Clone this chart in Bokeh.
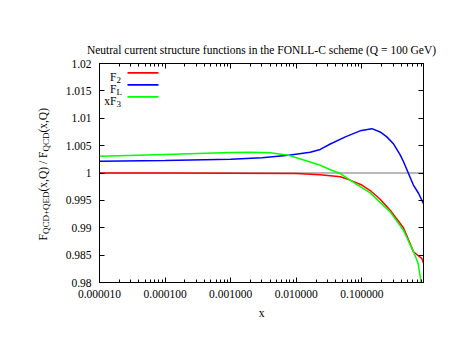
import math
from bokeh.plotting import figure
from bokeh.layouts import row
from bokeh.models import (FixedTicker, LogAxis, LinearAxis, Span, Label,
                          BoxAnnotation, Range1d, CustomJSTickFormatter)
from bokeh.embed import file_html
from bokeh.resources import INLINE

# ---------------- data ----------------
X_F2 = [1e-5, 1e-4, 1e-3, 0.01, 0.023, 0.047, 0.066, 0.10, 0.134, 0.19,
        0.27, 0.43, 0.55, 0.612, 0.66, 0.74, 0.82, 0.87]
F2 = [1.0000, 1.0000, 0.99995, 0.9999, 0.9997, 0.9993, 0.9987, 0.9978,
      0.9968, 0.9952, 0.9932, 0.9900, 0.9870, 0.9856, 0.9853, 0.9848,
      0.9844, 0.9835]

X_FL = [1e-5, 1e-4, 1e-3, 3e-3, 7.6e-3, 0.0163, 0.0232, 0.033, 0.056,
        0.094, 0.142, 0.19, 0.24, 0.30, 0.38, 0.43, 0.51, 0.61, 0.73, 0.87]
FL = [1.00215, 1.0023, 1.0025, 1.0028, 1.00325, 1.0038, 1.0043, 1.0053,
      1.0066, 1.0077, 1.0081, 1.0075, 1.0066, 1.0054, 1.0034, 1.0021,
      1.0000, 0.9978, 0.9963, 0.9944]

X_XF3 = [1e-5, 1e-4, 1e-3, 0.002, 0.004, 0.0076, 0.0163, 0.0232, 0.033,
         0.047, 0.066, 0.134, 0.27, 0.43, 0.612, 0.72, 0.80, 0.87]
XF3 = [1.00307, 1.00338, 1.00374, 1.0038, 1.0037, 1.00325, 1.0020,
       1.00142, 1.0006, 0.9999, 0.99868, 0.99637, 0.9929, 0.98955,
       0.9856, 0.9835, 0.9800, 0.9770]

SERIES_COLORS = ["#ff0000", "#0000ff", "#00ff00"]
LEGEND_MAIN = ["F", "F", "xF"]
LEGEND_SUB = ["2", "L", "3"]

X_RANGE = (1e-5, 0.87)
Y_RANGE = (0.98, 1.02)
X_TICKS = [1e-5, 1e-4, 1e-3, 1e-2, 1e-1]
X_TICK_LABELS = ["0.000010", "0.000100", "0.001000", "0.010000", "0.100000"]
Y_TICKS = [0.98, 0.985, 0.99, 0.995, 1.0, 1.005, 1.01, 1.015, 1.02]
Y_TICK_LABELS = ["0.98", "0.985", "0.99", "0.995", "1", "1.005", "1.01",
                 "1.015", "1.02"]
REF_LEVEL = 1.0

TITLE = "Neutral current structure functions in the FONLL-C scheme (Q = 100 GeV)"
XLABEL = "x"
YLABEL_PIECES = [("F", False), ("QCD+QED", True), ("(x,Q) / F", False),
                 ("QCD", True), ("(x,Q)", False)]

FONT = "Liberation Serif"
FS = 11.5
FS_SUB = 9.0

# Times / Liberation Serif advance widths (per em)
W = {"F": .556, "Q": .722, "C": .667, "D": .722, "E": .611, "+": .564,
     "(": .333, ")": .333, "x": .5, ",": .25, " ": .25, "/": .278}


def text_width(s, size):
    return sum(W.get(c, .5) for c in s) * size


TOTAL_W, TOTAL_H = 449, 345
LEFT_W = 52
FRAME_TOP, FRAME_BOTTOM = 63, 282   # page pixels; frames are aligned in a row

# ---------------- y-label strip (left) ----------------
lp = figure(width=LEFT_W, height=TOTAL_H, x_range=Range1d(0, LEFT_W),
            y_range=Range1d(TOTAL_H - FRAME_BOTTOM, TOTAL_H - FRAME_TOP),
            output_backend="svg", toolbar_location=None,
            x_axis_location=None, y_axis_location=None,
            min_border=0, min_border_left=0, min_border_right=0,
            min_border_top=FRAME_TOP, min_border_bottom=TOTAL_H - FRAME_BOTTOM,
            title=None)
lp.outline_line_color = None
lp.background_fill_color = "white"
lp.border_fill_color = "white"
lp.xgrid.visible = False
lp.ygrid.visible = False
for r in lp.renderers:
    r.visible = False
for g in lp.center:
    g.visible = False

pos = TOTAL_H - 240.0
for txt, is_sub in YLABEL_PIECES:
    size = FS_SUB if is_sub else FS
    lp.add_layout(Label(x=45.5 if is_sub else 42.5, y=pos, text=txt,
                        angle=math.pi / 2, angle_units="rad",
                        text_align="left", text_baseline="alphabetic",
                        text_font=FONT, text_font_size=f"{size}px",
                        text_color="black"))
    pos += text_width(txt, size)

# ---------------- main figure ----------------
p = figure(width=TOTAL_W - LEFT_W, height=TOTAL_H, x_axis_type="log",
           x_range=Range1d(*X_RANGE), y_range=Range1d(*Y_RANGE),
           output_backend="svg", toolbar_location=None,
           min_border_left=99 - LEFT_W, min_border_right=26,
           min_border_top=FRAME_TOP, min_border_bottom=TOTAL_H - FRAME_BOTTOM)
p.title.text = TITLE
p.title.text_font = FONT
p.title.text_font_size = f"{FS}px"
p.title.text_font_style = "normal"
p.title.text_color = "black"
p.title.align = "center"
p.title.standoff = 15

p.background_fill_color = "white"
p.border_fill_color = "white"
p.outline_line_color = "black"
p.outline_line_width = 1
p.outline_line_alpha = 1
p.xgrid.visible = False
p.ygrid.visible = False

minor_x = [m * 10 ** e for e in range(-5, 0) for m in range(2, 10)]
xticker = FixedTicker(ticks=X_TICKS, minor_ticks=minor_x)
yticker = FixedTicker(ticks=Y_TICKS, minor_ticks=[])


def style_axis(ax, labels=True):
    ax.axis_line_color = "black"
    ax.major_tick_in = 5
    ax.major_tick_out = 0
    ax.minor_tick_in = 3
    ax.minor_tick_out = 0
    ax.major_tick_line_color = "black"
    ax.minor_tick_line_color = "black"
    ax.major_label_text_font = FONT
    ax.major_label_text_font_size = f"{FS}px"
    ax.major_label_text_color = "black"
    if not labels:
        ax.major_label_text_font_size = "0px"
        ax.major_label_standoff = 0
        ax.formatter = CustomJSTickFormatter(code="return ''")


xa = p.xaxis[0]
xa.ticker = xticker
xa.major_label_overrides = dict(zip(X_TICKS, X_TICK_LABELS))
style_axis(xa)
xa.major_label_standoff = 7
xa.axis_label = XLABEL
xa.axis_label_text_font = FONT
xa.axis_label_text_font_size = f"{FS}px"
xa.axis_label_text_font_style = "normal"
xa.axis_label_text_color = "black"
xa.axis_label_standoff = 6

ya = p.yaxis[0]
ya.ticker = yticker
ya.major_label_overrides = dict(zip(Y_TICKS, Y_TICK_LABELS))
style_axis(ya)
ya.major_label_standoff = 8

top_ax = LogAxis(ticker=xticker)
style_axis(top_ax, labels=False)
p.add_layout(top_ax, "above")
right_ax = LinearAxis(ticker=yticker)
style_axis(right_ax, labels=False)
p.add_layout(right_ax, "right")

# reference line at 1
p.add_layout(Span(location=REF_LEVEL, dimension="width", line_color="#a0a0a0",
                  line_width=1.5, level="underlay"))

for xs, ys, c in zip([X_F2, X_FL, X_XF3], [F2, FL, XF3], SERIES_COLORS):
    p.line(xs, ys, line_color=c, line_width=1.5)

# ---------------- legend (manual, gnuplot style) ----------------
for i, (main, sub, c) in enumerate(zip(LEGEND_MAIN, LEGEND_SUB, SERIES_COLORS)):
    y_line = 209.7 - 12 * i
    p.add_layout(BoxAnnotation(left=28, right=59, bottom=y_line - 0.9,
                               top=y_line + 0.9, left_units="screen",
                               right_units="screen", top_units="screen",
                               bottom_units="screen", fill_color=c,
                               fill_alpha=1, line_color=None))
    p.add_layout(Label(x=17, y=y_line - 3.8, x_units="screen", y_units="screen",
                       text=main, text_align="right", text_baseline="alphabetic",
                       text_font=FONT, text_font_size=f"{FS}px",
                       text_color="black"))
    p.add_layout(Label(x=17, y=y_line - 6.8, x_units="screen", y_units="screen",
                       text=sub, text_align="left", text_baseline="alphabetic",
                       text_font=FONT, text_font_size=f"{FS_SUB}px",
                       text_color="black"))

layout = row(lp, p, spacing=0)
open("out.html", "w").write(file_html(layout, INLINE))
